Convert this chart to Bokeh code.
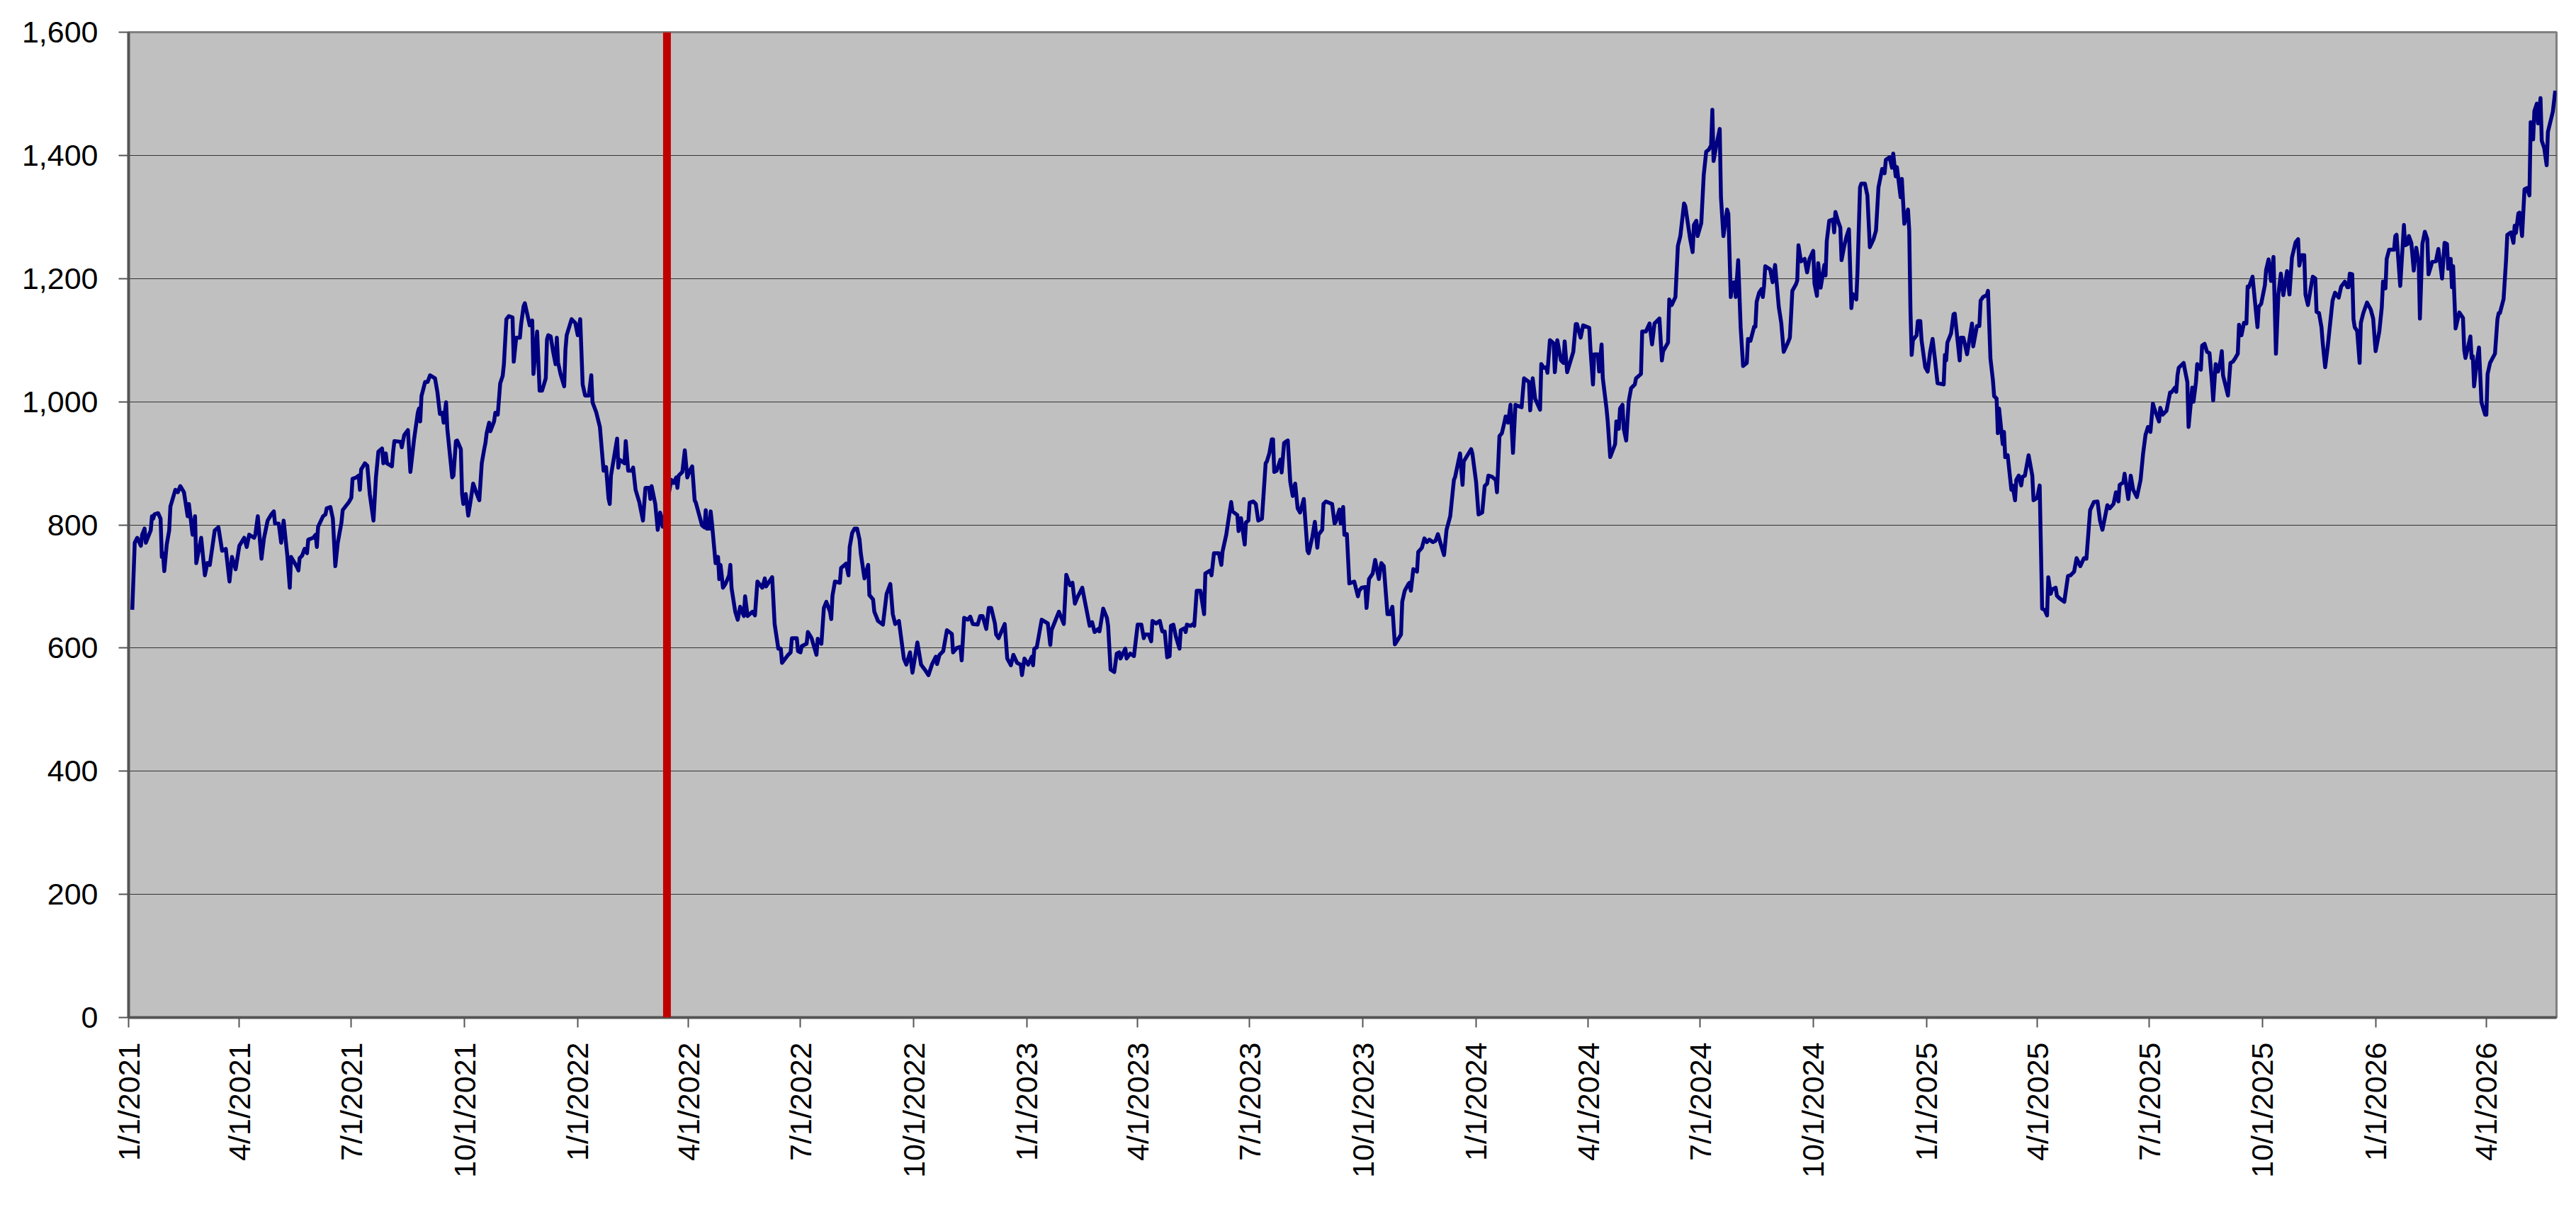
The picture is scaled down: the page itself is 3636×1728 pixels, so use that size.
import math
import pandas as pd
from bokeh.plotting import figure
from bokeh.models import Range1d, FixedTicker, NumeralTickFormatter, Span, ColumnDataSource
from bokeh.embed import file_html
from bokeh.resources import INLINE

# ---------------- data ----------------
start_date = "2021-01-01"
end_date = "2026-05-28"
marker_date = "2022-03-14 12:00"

tick_labels = ["1/1/2021", "4/1/2021", "7/1/2021", "10/1/2021",
               "1/1/2022", "4/1/2022", "7/1/2022", "10/1/2022",
               "1/1/2023", "4/1/2023", "7/1/2023", "10/1/2023",
               "1/1/2024", "4/1/2024", "7/1/2024", "10/1/2024",
               "1/1/2025", "4/1/2025", "7/1/2025", "10/1/2025",
               "1/1/2026", "4/1/2026"]
y_ticks = [0, 200, 400, 600, 800, 1000, 1200, 1400, 1600]

# days since start_date
days = [
    3, 5, 7, 10, 11, 13, 14, 18, 19, 20, 21, 24, 26, 27, 28, 29, 31, 33, 34, 38, 40, 42, 45, 48, 49, 52, 54, 55, 59, 62,
    64, 66, 70, 73, 76, 79, 82, 84, 87, 90, 94, 96, 98, 102, 103, 105, 108, 110, 113, 116, 118, 119, 122, 124, 126, 129,
    131, 132, 137, 138, 139, 141, 143, 145, 146, 150, 152, 153, 154, 158, 160, 161, 164, 166, 168, 170, 173, 174, 179,
    181, 182, 185, 187, 188, 189, 192, 194, 196, 199, 201, 203, 206, 207, 209, 210, 214, 215, 216, 221, 222, 224, 227,
    229, 232, 235, 236, 237, 238, 241, 243, 245, 249, 251, 253, 255, 256, 258, 259, 263, 264, 266, 267, 270, 271, 272,
    274, 276, 278, 280, 283, 285, 287, 289, 290, 291, 293, 294, 297, 298, 300, 302, 304, 305, 307, 309, 312, 313, 315,
    318, 319, 321, 322, 326, 328, 329, 332, 334,
    336, 339, 340, 341, 343, 345, 347, 348, 349, 351, 354, 355, 356, 360, 363, 365, 367, 369, 371, 374, 376, 377, 380,
    383, 386, 388, 390, 391, 392, 395, 397, 398, 399, 403, 404, 406, 409, 410, 412, 415, 418, 420, 423, 424, 425, 428,
    430, 432, 434, 441, 443, 445, 446, 447, 450, 452, 454, 456, 458, 460, 461, 466, 468, 469, 470, 472, 473, 474, 477,
    479, 480, 481, 482, 483, 485, 488, 489, 490, 493, 495, 497, 500, 501, 503, 507, 509, 511, 515, 517, 518, 523, 525,
    528, 530, 531, 536, 538, 539, 543, 544, 546, 547, 551, 552, 555, 559, 560, 563, 565, 567, 570, 571, 572, 574, 578,
    579, 583, 585, 586, 588, 590, 592, 594, 595, 598, 601, 602, 605, 606, 609, 613, 616, 619, 621, 623, 626, 630, 632,
    635, 637, 641, 644, 647, 650, 653, 656, 657, 659, 662, 665, 669, 670, 673, 676, 677, 679,
    682, 684, 686, 690, 692, 694, 697, 699, 701, 704, 705, 707, 712, 714, 717, 719, 722, 725, 726, 728, 731, 734, 735,
    736, 738, 742, 747, 749, 750, 753, 756, 758, 760, 762, 765, 767, 769, 771, 775, 777, 781, 783, 785, 788, 789, 792,
    795, 796, 798, 801, 803, 805, 806, 810, 811, 814, 817, 820, 823, 825, 826, 829, 831, 832, 835, 838, 840, 842, 844,
    846, 847, 849, 851, 854, 855, 858, 859, 860, 863, 865, 866, 868, 871, 874, 875, 879, 880, 882, 886, 888, 889, 892,
    894, 896, 897, 901, 902, 904, 907, 908, 910, 911, 914, 916, 918, 921, 924, 925, 927, 929, 930, 931, 933, 936, 937,
    939, 942, 944, 946, 948, 950, 952, 955, 958, 959, 962, 964, 966, 967, 970, 971, 973, 978, 980, 981, 984, 985, 987,
    988, 990, 992, 996, 999, 1000, 1002, 1005, 1006, 1008, 1011, 1013, 1016, 1018,
    1020, 1023, 1025, 1027, 1029, 1030, 1034, 1035, 1037, 1040, 1041, 1042, 1044, 1047, 1048, 1051, 1053, 1055, 1057,
    1060, 1062, 1064, 1067, 1069, 1071, 1074, 1077, 1078, 1082, 1084, 1085, 1091, 1092, 1095, 1097, 1100, 1102, 1104,
    1105, 1108, 1111, 1112, 1114, 1116, 1118, 1119, 1121, 1123, 1125, 1127, 1128, 1132, 1133, 1134, 1138, 1139, 1141,
    1143, 1147, 1148, 1150, 1152, 1153, 1155, 1158, 1159, 1161, 1164, 1166, 1167, 1169, 1174, 1176, 1177, 1180, 1182,
    1187, 1188, 1190, 1191, 1194, 1195, 1197, 1198, 1201, 1202, 1204, 1208, 1209, 1211, 1212, 1214, 1215, 1217, 1219,
    1221, 1224, 1225, 1229, 1230, 1233, 1236, 1238, 1240, 1244, 1246, 1247, 1251, 1252, 1254, 1257, 1259, 1261, 1264,
    1265, 1269, 1271, 1272, 1274, 1275, 1278, 1280, 1282, 1284, 1286, 1287, 1288, 1290, 1293, 1294, 1296, 1299, 1300,
    1302, 1303, 1305, 1306, 1308, 1310, 1312, 1315, 1316, 1318, 1321, 1322, 1323, 1325, 1327, 1328, 1329, 1330, 1334,
    1336, 1338, 1341, 1343, 1345, 1348, 1350, 1351, 1352, 1355,
    1356, 1357, 1359, 1362, 1364, 1366, 1369, 1370, 1372, 1373, 1375, 1378, 1379, 1380, 1382, 1385, 1386, 1387, 1389,
    1391, 1392, 1394, 1396, 1398, 1400, 1401, 1404, 1405, 1407, 1408, 1411, 1413, 1415, 1418, 1420, 1422, 1425, 1427,
    1428, 1431, 1433, 1434, 1436, 1437, 1440, 1441, 1443, 1444, 1446, 1447, 1448, 1449, 1450, 1453, 1454, 1456, 1457,
    1460, 1462, 1464, 1466, 1468, 1470, 1473, 1475, 1476, 1477, 1478, 1481, 1483, 1484, 1488, 1489, 1491, 1494, 1498,
    1499, 1502, 1504, 1505, 1507, 1510, 1511, 1513, 1515, 1516, 1518, 1519, 1520, 1523, 1524, 1525, 1527, 1530, 1531,
    1533, 1534, 1536, 1538, 1539, 1541, 1544, 1547, 1548, 1551, 1553, 1555, 1557, 1559, 1560, 1562, 1563, 1566, 1567,
    1569, 1573, 1576, 1578, 1581, 1583, 1586, 1589, 1591, 1594, 1597, 1600, 1602, 1604, 1608, 1610, 1613, 1615, 1617,
    1618, 1621, 1622, 1623, 1625, 1627, 1629, 1632, 1635, 1637, 1639, 1641, 1643, 1645, 1646, 1650, 1651, 1653, 1656,
    1659, 1660, 1663, 1664, 1665, 1666, 1670, 1671, 1673, 1674, 1677, 1678, 1680, 1681, 1684, 1685, 1687, 1689, 1691,
    1693, 1694, 1696, 1698,
    1700, 1701, 1702, 1706, 1708, 1710, 1712, 1714, 1715, 1717, 1719, 1721, 1722, 1723, 1726, 1730, 1731, 1733, 1736,
    1737, 1739, 1741, 1743, 1745, 1747, 1749, 1751, 1754, 1756, 1758, 1761, 1763, 1764, 1766, 1768, 1769, 1771, 1774,
    1775, 1777, 1778, 1780, 1782, 1783, 1785, 1787, 1791, 1793, 1796, 1798, 1801, 1803, 1804, 1805, 1807, 1808, 1809,
    1811, 1813, 1814, 1816, 1819, 1822, 1824, 1826, 1829, 1831, 1832, 1834, 1835, 1837, 1841, 1842, 1843, 1846, 1849,
    1850, 1852, 1853, 1855, 1857, 1859, 1861, 1862, 1864, 1866, 1868, 1869, 1872, 1875, 1877, 1880, 1882, 1884, 1885,
    1887, 1888, 1889, 1891, 1894, 1897, 1898, 1899, 1901, 1903, 1904, 1905, 1906, 1908, 1910, 1912, 1915, 1916, 1917,
    1919, 1923, 1925, 1926, 1927, 1930, 1932, 1933, 1936, 1938, 1939, 1940, 1942, 1943, 1945, 1947, 1949, 1951, 1952,
    1954, 1955, 1957, 1958, 1960, 1961, 1963, 1965, 1966, 1970, 1972,
]

index_values = [
    662, 771, 779, 766, 784, 794, 771, 791, 814, 810, 817, 819, 810, 748, 754, 725, 768, 791, 830, 857, 853, 863, 853, 814, 834, 784, 814, 738, 779, 718,
    738, 735, 791, 796, 758, 761, 708, 748, 728, 766, 779, 764, 784, 779, 784, 814, 745, 778, 807, 817, 822, 802, 802, 771, 807, 750,
    698, 748, 731, 726, 746, 750, 761, 754, 776, 779, 784, 764, 797, 814, 817, 827, 829, 810, 733, 771, 804, 824, 837,
    844, 875, 877, 880, 857, 890, 900, 896, 850, 807, 877, 919, 924, 900, 916, 900, 895, 919, 936, 935, 926, 946, 954,
    886, 939, 982, 989, 968, 1009, 1032, 1032, 1043, 1038, 1015, 980, 982, 966, 999, 956, 877, 880, 936, 937, 923, 850, 834,
    850, 815, 840, 867, 850, 840, 900, 923, 933, 949, 966, 952, 968, 982, 979, 1030, 1042, 1061, 1134, 1139, 1137, 1065, 1104,
    1104, 1126, 1155, 1160, 1124, 1132, 1045, 1114, 1018,
    1018, 1038, 1101, 1108, 1106, 1081, 1061, 1104, 1064, 1045, 1025, 1084, 1108, 1134, 1128, 1108, 1134, 1028, 1010, 1010, 1043, 999, 983,
    959, 888, 894, 843, 834, 880, 916, 940, 893, 906, 900, 936, 888, 888, 893, 857, 837, 807, 860, 860, 842, 863, 834,
    792, 820, 797, 873, 868, 877, 860, 880, 886, 921, 877, 888, 895, 840, 836, 799, 796, 824, 794, 794, 822, 804, 738,
    748, 712, 735, 718, 698, 704, 718, 735, 697, 659, 646, 667, 652, 684, 652, 659, 653, 708, 698, 713, 700, 715, 639,
    599, 599, 576, 589, 593, 616, 616, 595, 593, 603, 607, 626, 616, 589, 615, 607, 665, 675, 659, 647, 685, 708, 706,
    730, 737, 718, 764, 787, 794, 794, 776, 754, 713, 735, 686, 679, 659, 644, 638, 688, 704, 655, 639, 644, 583, 573,
    593, 560, 609, 573, 565, 556, 574, 586, 574, 589, 595, 629, 623, 593, 600, 602, 580, 649,
    646, 651, 639, 638, 652, 652, 631, 665, 665, 640, 622, 616, 639, 583, 572, 589, 576, 573, 556, 583, 573, 586, 572,
    599, 601, 646, 640, 605, 629, 644, 659, 649, 639, 719, 702, 706, 672, 682, 698, 677, 636, 642, 626, 631, 627, 664,
    649, 636, 565, 561, 591, 593, 583, 599, 583, 591, 587, 638, 638, 616, 622, 622, 611, 644, 640, 644, 627, 627, 585,
    587, 636, 638, 619, 599, 629, 632, 626, 638, 636, 639, 636, 693, 693, 655, 721, 726, 718, 754, 754, 735, 757, 784,
    811, 837, 822, 816, 790, 811, 768, 804, 807, 836, 838, 834, 807, 810, 900, 903, 916, 939, 939, 886, 888, 906, 885,
    933, 937, 870, 847, 867, 827, 820, 842, 758, 754, 781, 805, 763, 784, 792, 834, 838, 834, 802, 805, 825, 802, 829,
    784, 785, 705, 708, 684, 693, 698, 699, 665, 712, 721, 743, 712, 738,
    733, 655, 655, 667, 606, 609, 622, 675, 693, 704, 706, 693, 728, 724, 756, 763, 778, 772, 776,
    772, 774, 785, 764, 751, 792, 814, 873, 878, 916, 865, 903, 923, 916, 870, 817, 820, 863, 867,
    880, 878, 873, 853, 944, 949, 966, 976, 966, 995, 917, 995, 994, 991, 1015, 1038, 1032, 986, 1038,
    1005, 987, 1061, 1055, 1056, 1047, 1100, 1095, 1048, 1100, 1067, 1063, 1098, 1048, 1081, 1126, 1126, 1104, 1124,
    1120, 1084, 1028, 1077, 1077, 1049, 1093, 1038, 989, 968, 910, 931, 968, 956, 989, 995, 956, 937, 1000,
    1022, 1028, 1038, 1045, 1114, 1114, 1127, 1093, 1127, 1135, 1067, 1082, 1096, 1166, 1157, 1170, 1253, 1269, 1322,
    1318, 1264, 1243, 1287, 1294, 1269, 1290, 1368, 1406, 1409, 1416, 1474, 1391, 1414, 1443, 1332, 1269, 1312, 1305,
    1170, 1193, 1194, 1170, 1230, 1121, 1058, 1063, 1102, 1099, 1122, 1122, 1162, 1177, 1183, 1170, 1188, 1220, 1215,
    1194, 1222, 1154, 1128, 1081, 1094, 1104, 1141, 1180, 1191,
    1197, 1254, 1228, 1232, 1210, 1232, 1245, 1192, 1172, 1225, 1185, 1222, 1205, 1261, 1294, 1296, 1275, 1308, 1294,
    1283, 1230, 1251, 1268, 1280, 1152, 1175, 1166, 1213, 1348, 1354, 1354, 1335, 1251, 1264, 1278, 1348, 1378, 1371,
    1393, 1397, 1380, 1403, 1366, 1381, 1332, 1362, 1289, 1298, 1312, 1278, 1148, 1076, 1100, 1108, 1131, 1131, 1100,
    1056, 1049, 1081, 1102, 1067, 1030, 1029, 1028, 1076, 1067, 1096, 1111, 1142, 1143, 1067, 1104, 1104, 1077, 1127,
    1090, 1123, 1123, 1164, 1170, 1173, 1180, 1070, 1035, 1009, 1005, 949, 989, 931, 951, 910, 913, 857, 864,
    840, 873, 880, 864, 878, 880, 913, 880, 840, 844, 864, 664, 662, 653, 715, 688, 695, 698, 685,
    681, 675, 717, 718, 724, 746, 733, 746, 745, 824, 837, 838, 807, 792, 832, 827, 834, 853, 838,
    865, 869, 883, 869, 842, 880, 857, 845, 873, 915, 946, 959, 951, 997, 990, 968, 990, 979, 985,
    1015, 1015, 1023, 1016, 1043, 1055, 1063, 1052, 1032, 959, 1023, 1000, 1032, 1061, 1052, 1091, 1094, 1081, 1079,
    1032, 1002, 1061, 1049,
    1067, 1082, 1043, 1010, 1063, 1065, 1071, 1078, 1125, 1108, 1128, 1127, 1187, 1186, 1203, 1121, 1154, 1159, 1189,
    1214, 1231, 1196, 1235, 1078, 1175, 1208, 1173, 1212, 1174, 1234, 1259, 1264, 1221, 1238, 1238, 1174, 1157, 1193,
    1203, 1200, 1146, 1144, 1121, 1096, 1056, 1088, 1164, 1177, 1169, 1187, 1195, 1186, 1186, 1208, 1207, 1134, 1121,
    1115, 1063, 1128, 1144, 1161, 1150, 1135, 1082, 1114, 1153, 1195, 1184, 1232, 1247, 1247, 1269, 1271, 1188, 1287,
    1254, 1256, 1269, 1258, 1213, 1250, 1227, 1135, 1256, 1276, 1264, 1207, 1227, 1228, 1248, 1200, 1258, 1256, 1216,
    1232, 1186, 1220, 1119, 1145, 1136, 1084, 1071, 1088, 1106, 1071, 1074, 1025, 1061, 1088, 999, 979, 979, 1045,
    1063, 1078, 1134, 1144, 1144, 1167, 1230, 1271, 1275, 1258, 1286, 1274, 1306, 1307, 1269, 1345, 1347, 1335, 1454,
    1426, 1472, 1484, 1452, 1493, 1424, 1412, 1384, 1438, 1471, 1505,
]

# ---------------- derived ----------------
start = pd.Timestamp(start_date)
x_end = (pd.Timestamp(end_date) - start).days
marker_day = (pd.Timestamp(marker_date) - start) / pd.Timedelta(days=1)
tick_days = [int((pd.to_datetime(t, format="%m/%d/%Y") - start).days) for t in tick_labels]

n = min(len(days), len(index_values))
source = ColumnDataSource(data=dict(day=days[:n], value=index_values[:n]))

FONT = "Liberation Sans"

p = figure(width=3628, height=1720, output_backend="svg", toolbar_location=None,
           x_range=Range1d(0, x_end), y_range=Range1d(0, 1600),
           min_border_left=181, min_border_right=20, min_border_top=45, min_border_bottom=284,
           background_fill_color="#C0C0C0", border_fill_color="white")

p.line(x="day", y="value", source=source, line_color="#000080", line_width=5.5, line_join="round")

p.add_layout(Span(location=marker_day, dimension="height", line_color="#C00000", line_width=11))

# axes
p.xaxis.ticker = FixedTicker(ticks=tick_days)
p.xaxis.major_label_overrides = {d: lab for d, lab in zip(tick_days, tick_labels)}
p.xaxis.major_label_orientation = math.pi / 2
p.xaxis.major_label_standoff = 21

p.yaxis.ticker = FixedTicker(ticks=y_ticks)
p.yaxis.formatter = NumeralTickFormatter(format="0,0")
p.yaxis.major_label_standoff = 29

for ax in (p.xaxis[0], p.yaxis[0]):
    ax.axis_line_color = "#555555"
    ax.axis_line_width = 4
    ax.major_tick_line_color = "#555555"
    ax.major_tick_line_width = 2
    ax.major_tick_out = 14
    ax.major_tick_in = 0
    ax.minor_tick_line_color = None
    ax.major_label_text_font = FONT
    ax.major_label_text_font_size = "43px"
    ax.major_label_text_color = "black"

p.xgrid.grid_line_color = None
p.ygrid.grid_line_color = "#333333"
p.ygrid.grid_line_width = 1

p.outline_line_color = "#808080"
p.outline_line_width = 3

open("out.html", "w").write(file_html(p, INLINE))
